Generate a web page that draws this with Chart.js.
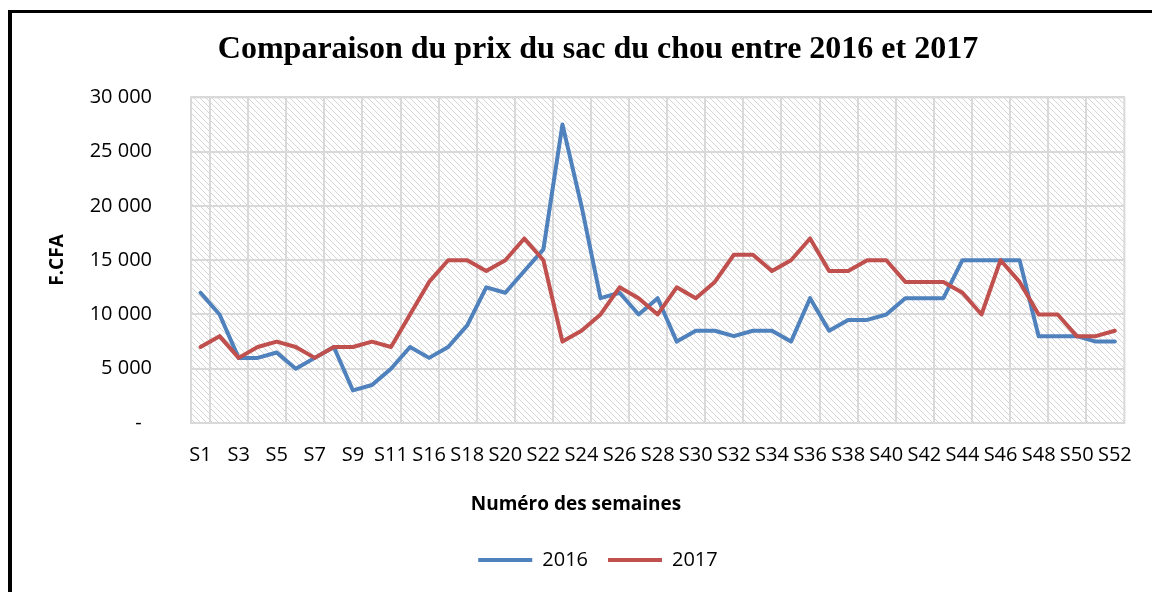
<!DOCTYPE html>
<html lang="fr">
<head>
<meta charset="utf-8">
<title>Prix du sac du chou 2016 - 2017</title>
<script src="https://cdn.jsdelivr.net/npm/chart.js@4.4.1/dist/chart.umd.min.js"></script>
<style>
  html, body { margin: 0; padding: 0; background: #fff; overflow: hidden; }
  #wrap { position: relative; width: 1152px; height: 592px; }
  #cadre { position: absolute; left: 8px; top: 10px; right: -10px; bottom: -10px;
           border-left: 4px solid #000; border-top: 3px solid #000; }
  #graphique { position: absolute; left: 0; top: 0; }
</style>
</head>
<body>
<div id="wrap">
  <div id="cadre"></div>
  <canvas id="graphique" width="1152" height="592"></canvas>
</div>
<script>
// semaines (S12 a S14 absentes)
const semaines = ['S1', 'S2', 'S3', 'S4', 'S5', 'S6', 'S7', 'S8', 'S9', 'S10', 'S11',
  'S15', 'S16', 'S17', 'S18', 'S19', 'S20', 'S21', 'S22', 'S23', 'S24', 'S25', 'S26',
  'S27', 'S28', 'S29', 'S30', 'S31', 'S32', 'S33', 'S34', 'S35', 'S36', 'S37', 'S38',
  'S39', 'S40', 'S41', 'S42', 'S43', 'S44', 'S45', 'S46', 'S47', 'S48', 'S49', 'S50',
  'S51', 'S52'];

const prix2016 = [12000, 10000, 6000, 6000, 6500, 5000, 6000, 7000, 3000, 3500, 5000,
  7000, 6000, 7000, 9000, 12500, 12000, 14000, 16000, 27500, 20000, 11500, 12000,
  10000, 11500, 7500, 8500, 8500, 8000, 8500, 8500, 7500, 11500, 8500, 9500,
  9500, 10000, 11500, 11500, 11500, 15000, 15000, 15000, 15000, 8000, 8000, 8000,
  7500, 7500];

const prix2017 = [7000, 8000, 6000, 7000, 7500, 7000, 6000, 7000, 7000, 7500, 7000,
  10000, 13000, 15000, 15000, 14000, 15000, 17000, 15000, 7500, 8500, 10000, 12500,
  11500, 10000, 12500, 11500, 13000, 15500, 15500, 14000, 15000, 17000, 14000, 14000,
  15000, 15000, 13000, 13000, 13000, 12000, 10000, 15000, 13000, 10000, 10000, 8000,
  8000, 8500];

const graduations = [0, 5000, 10000, 15000, 20000, 25000, 30000];

const BLEU = '#4F81BD';
const ROUGE = '#C0504D';
const GRILLE = '#d9d9d9';
const police = { family: 'Open Sans', size: 20 };

// motif hachure du fond de la zone de tracé
const motif = document.createElement('canvas');
motif.width = 6;
motif.height = 6;
(function () {
  const g = motif.getContext('2d');
  g.fillStyle = '#fff';
  g.fillRect(0, 0, 6, 6);
  g.strokeStyle = '#d6d6d6';
  g.lineWidth = 1;
  g.beginPath();
  g.moveTo(0, 0); g.lineTo(6, 6);
  g.moveTo(-1, 5); g.lineTo(1, 7);
  g.moveTo(5, -1); g.lineTo(7, 1);
  g.stroke();
})();

const fondHachure = {
  id: 'fondHachure',
  beforeDraw(chart) {
    const { ctx, chartArea: a } = chart;
    ctx.save();
    ctx.fillStyle = ctx.createPattern(motif, 'repeat');
    ctx.fillRect(a.left, a.top, a.right - a.left, a.bottom - a.top);
    ctx.strokeStyle = GRILLE;
    ctx.lineWidth = 2;
    ctx.strokeRect(a.left, a.top, a.right - a.left, a.bottom - a.top);
    ctx.restore();
  }
};

const titresAxes = {
  id: 'titresAxes',
  afterDraw(chart) {
    const ctx = chart.ctx;
    ctx.save();
    ctx.fillStyle = '#000';
    ctx.font = 'bold 19px "Open Sans"';
    ctx.textAlign = 'center';
    ctx.textBaseline = 'middle';
    ctx.fillText('Numéro des semaines', 576, 505);
    ctx.translate(58, 260);
    ctx.rotate(-Math.PI / 2);
    ctx.fillText('F.CFA', 0, 0);
    ctx.restore();
  }
};

const milliers = v => v === 0 ? '-  ' : String(v).replace(/\B(?=(\d{3})+(?!\d))/g, ' ');

new Chart(document.getElementById('graphique'), {
  type: 'line',
  data: {
    labels: semaines,
    datasets: [
      { label: '2016', data: prix2016, borderColor: BLEU, backgroundColor: BLEU, order: 1 },
      { label: '2017', data: prix2017, borderColor: ROUGE, backgroundColor: ROUGE, order: 0 }
    ]
  },
  options: {
    responsive: false,
    animation: false,
    events: [],
    layout: { padding: { left: 68, right: 24, top: 0, bottom: 12 } },
    elements: {
      point: { radius: 0 },
      line: { borderWidth: 4, tension: 0, borderJoinStyle: 'round', borderCapStyle: 'round', fill: false }
    },
    plugins: {
      title: {
        display: true,
        text: 'Comparaison du prix du sac du chou entre 2016 et 2017',
        color: '#000',
        font: { family: 'Liberation Serif', size: 32, weight: 'bold' },
        padding: { top: 31, bottom: 28 }
      },
      legend: {
        position: 'bottom',
        labels: {
          color: '#000',
          font: police,
          boxWidth: 54,
          boxHeight: 4,
          padding: 20,
          sort: (a, b) => a.datasetIndex - b.datasetIndex,
          generateLabels(chart) {
            return Chart.defaults.plugins.legend.labels.generateLabels(chart)
              .map(item => Object.assign(item, { lineWidth: 0 }));
          }
        }
      },
      tooltip: { enabled: false }
    },
    scales: {
      x: {
        offset: true,
        grid: {
          offset: true,
          drawTicks: false,
          lineWidth: 2,
          color: c => c.index % 2 === 1 ? GRILLE : 'rgba(0,0,0,0)'
        },
        border: { color: GRILLE, width: 2 },
        ticks: {
          autoSkip: false,
          maxRotation: 0,
          padding: 20,
          color: '#000',
          font: police,
          callback: (v, i) => i % 2 === 0 ? semaines[i] : ''
        },
        afterFit: s => { s.height = 107; }
      },
      y: {
        min: 0,
        max: 30000,
        afterBuildTicks: s => { s.ticks = graduations.map(v => ({ value: v })); },
        grid: { drawTicks: false, color: GRILLE, lineWidth: 2 },
        border: { display: false },
        ticks: { padding: 39, color: '#000', font: police, callback: milliers },
        afterFit: s => { s.width = 123; }
      }
    }
  },
  plugins: [fondHachure, titresAxes]
});
</script>
</body>
</html>
